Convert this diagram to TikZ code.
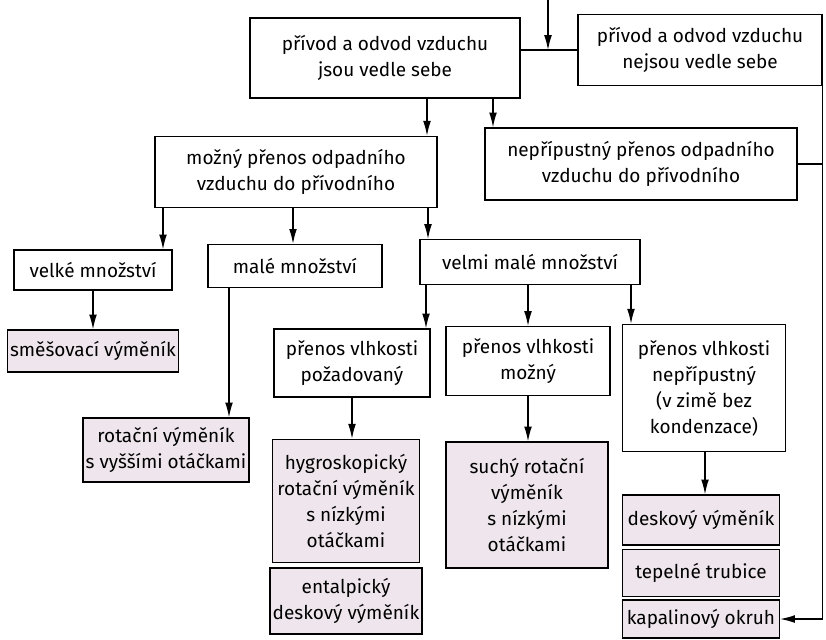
\documentclass[tikz,border=0pt]{standalone}
\usepackage{fontspec}
\setmainfont{Fira Sans}
\usetikzlibrary{arrows.meta}
\definecolor{leafgray}{RGB}{238, 230, 236}

\begin{document}
\begin{tikzpicture}[
  x=0.025cm, y=-0.025cm,
  box/.style={draw, line width=0.9pt, align=center, inner sep=2pt, font=\fontsize{13.5}{18.5}\selectfont},
  leaf/.style={box, fill=leafgray},
  arrow/.style={-{Latex[length=10.5pt, width=5.5pt]}, line width=0.9pt},
]
  \useasboundingbox (0,0) rectangle (826,639);

  % Nodes
  \node[box, minimum width=6.75cm, minimum height=2cm] (vedle) at (385,58) {přívod a odvod vzduchu\\jsou vedle sebe};
  \node[box, minimum width=6.1cm, minimum height=1.78cm] (nevedle) at (700,50) {přívod a odvod vzduchu\\nejsou vedle sebe};
  \node[box, minimum width=7.05cm, minimum height=1.78cm] (mozny) at (296,172) {možný přenos odpadního\\vzduchu do přívodního};
  \node[box, minimum width=7.8cm, minimum height=1.8cm] (nepr) at (641,164) {nepřípustný přenos odpadního\\vzduchu do přívodního};

  \node[box, minimum width=3.95cm, minimum height=1cm] (velke) at (93,270) {velké množství};
  \node[box, minimum width=4.35cm, minimum height=1.08cm] (male) at (295,266) {malé množství};
  \node[box, minimum width=5.5cm, minimum height=1.12cm] (velmi) at (530,262) {velmi malé množství};

  \node[leaf, minimum width=3.95cm, minimum height=1.05cm] (smes) at (93,351) {směšovací výměník};
  \node[leaf, minimum width=4.1cm, minimum height=1.6cm] (rotvys) at (166,450) {rotační výměník\\s vyššími otáčkami};

  \node[box, minimum width=3.9cm, minimum height=1.7cm] (pozad) at (352,363) {přenos vlhkosti\\požadovaný};
  \node[box, minimum width=4.1cm, minimum height=1.72cm] (moz) at (528,361) {přenos vlhkosti\\možný};
  \node[box, minimum width=4.08cm, minimum height=3.18cm] (nevlh) at (704,388) {přenos vlhkosti\\nepřípustný\\(v zimě bez\\kondenzace)};

  \node[leaf, minimum width=3.68cm, minimum height=3.08cm] (hygro) at (346,501) {hygroskopický\\rotační výměník\\s nízkými\\otáčkami};
  \node[leaf, minimum width=3.7cm, minimum height=1.65cm] (ental) at (346,601) {entalpický\\deskový výměník};
  \node[leaf, minimum width=4.05cm, minimum height=3.15cm] (suchy) at (527,505) {suchý rotační\\výměník\\s nízkými\\otáčkami};

  \node[leaf, minimum width=3.92cm, minimum height=1.25cm] (desk) at (701,520) {deskový výměník};
  \node[leaf, minimum width=3.92cm, minimum height=1.18cm] (tepl) at (701,573) {tepelné trubice};
  \node[leaf, minimum width=3.92cm, minimum height=0.95cm] (kapal) at (701,619) {kapalinový okruh};

  \coordinate (vstup) at (548,0);
  \coordinate (uzel) at (548,50);

  % Arrows
  \draw[line width=0.9pt] (vedle.east |- nevedle.west) -- (nevedle.west);
  \draw[arrow] (vstup) -- (uzel);
  \draw[arrow] (427,0 |- vedle.south) -- (427,0 |- mozny.north);
  \draw[arrow] (493,0 |- vedle.south) -- (493,0 |- nepr.north);

  \draw[arrow] (163,0 |- mozny.south) -- (163,0 |- velke.north);
  \draw[arrow] (293,0 |- mozny.south) -- (293,0 |- male.north);
  \draw[arrow] (428,0 |- mozny.south) -- (428,0 |- velmi.north);

  \draw[arrow] (velke) -- (smes);
  \draw[arrow] (229,0 |- male.south) -- (229,0 |- rotvys.north);

  \draw[arrow] (426,0 |- velmi.south) -- (426,0 |- pozad.north);
  \draw[arrow] (velmi.south -| moz) -- (moz);
  \draw[arrow] (631,0 |- velmi.south) -- (631,0 |- nevlh.north);

  \draw[arrow] (pozad) -- (hygro.north -| pozad);
  \draw[arrow] (moz) -- (suchy.north -| moz);
  \draw[arrow] (705,0 |- nevlh.south) -- (705,0 |- desk.north);

  \draw[line width=0.9pt] (nepr.east) -- (nepr.east -| nevedle.south east);
  \draw[arrow] (nevedle.south east) |- (kapal.east);
\end{tikzpicture}
\end{document}
